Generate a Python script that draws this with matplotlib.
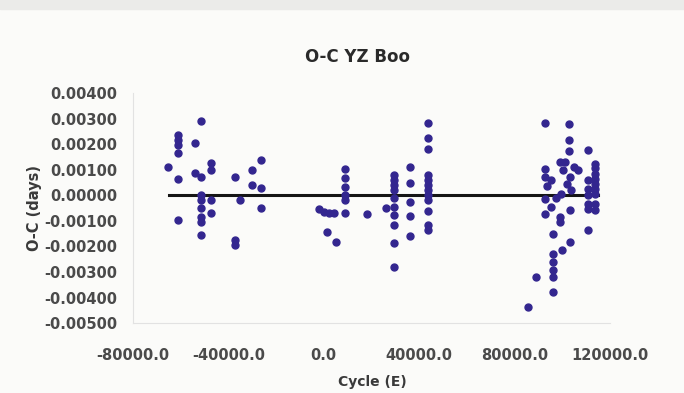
import matplotlib.pyplot as plt
from matplotlib.patches import Rectangle

# O-C residuals of YZ Boo
cycle_e = [
    -65250, -61050, -61050, -61050, -61050, -61050, -61050,
    -54000, -54000,
    -51360, -51360, -51360, -51360, -51360, -51360, -51360, -51360,
    -47150, -47150, -47150, -47150,
    -37050, -34940, -37050, -37050,
    -30300, -26500, -30300, -26500, -26500,
    -2100, 0, 2100, 4200, 1260, 5050,
    8840, 8840, 8840, 8840, 8840, 8840,
    18100, 26100,
    29470, 29470, 29470, 29470, 29470, 29470, 29470, 29470, 29470, 29470,
    36080, 36080, 36080, 36080, 36080,
    43800, 43800, 43800, 43800, 43800, 43800, 43800, 43800, 43800, 43800, 43800, 43800,
    92630, 102860, 102860, 102860, 110850, 98940, 101300,
    92630, 92630, 95440, 100200, 103100, 106640,
    113700, 113700, 113700, 113700, 113700, 113700, 113700,
    110850, 110850, 110850, 110850, 113700, 110850, 113700, 110850,
    92630, 95440, 92630, 98940, 98940, 103100,
    95900, 103100, 99650, 95900, 95900, 95900, 95900, 88830, 95900, 85590,
    101800, 103500, 99300, 104800, 97300, 93700,
]
oc_days = [
    0.00110, 0.00235, 0.00216, 0.00196, 0.00165, 0.00063, -0.00098,
    0.00205, 0.00088,
    0.00291, 0.00070, 0.00000, -0.00020, -0.00050, -0.00085, -0.00105, -0.00157,
    0.00125, 0.00098, -0.00020, -0.00070,
    0.00070, -0.00020, -0.00176, -0.00196,
    0.00098, 0.00140, 0.00040, 0.00027, -0.00050,
    -0.00055, -0.00066, -0.00070, -0.00070, -0.00145, -0.00184,
    0.00102, 0.00067, 0.00031, 0.00000, -0.00020, -0.00070,
    -0.00075, -0.00050,
    0.00078, 0.00059, 0.00040, 0.00020, -0.00012, -0.00047, -0.00078, -0.00118, -0.00188, -0.00282,
    0.00110, 0.00047, -0.00027, -0.00082, -0.00160,
    0.00282, 0.00223, 0.00180, 0.00078, 0.00059, 0.00040, 0.00020, 0.00000, -0.00020, -0.00060, -0.00118, -0.00137,
    0.00284, 0.00278, 0.00218, 0.00174, 0.00179, 0.00130, 0.00130,
    0.00102, 0.00072, 0.00059, 0.00098, 0.00072, 0.00098,
    0.00124, 0.00105, 0.00085, 0.00065, 0.00046, 0.00026, 0.00007,
    0.00059, 0.00026, 0.00000, -0.00033, -0.00033, -0.00052, -0.00059, -0.00137,
    -0.00013, -0.00046, -0.00072, -0.00085, -0.00105, -0.00059,
    -0.00153, -0.00183, -0.00216, -0.00231, -0.00261, -0.00294, -0.00320, -0.00318, -0.00379, -0.00438,
    0.00045, 0.00020, 0.00005, 0.00110, -0.00010, 0.00035,
]
zero_line_e = [-65000, 115000]
zero_line_oc = [0.0, 0.0]

x_ticks = [-80000, -40000, 0, 40000, 80000, 120000]
y_ticks = [0.004, 0.003, 0.002, 0.001, 0.0, -0.001, -0.002, -0.003, -0.004, -0.005]

plt.rcParams['font.family'] = ['DejaVu Sans']
fig = plt.figure(figsize=(6.84, 3.93), dpi=100, facecolor='#fbfbf9')
fig.patches.append(Rectangle((0, 0.978), 1, 0.022, transform=fig.transFigure,
                             color='#ebebe9', zorder=0))
ax = fig.add_axes([0.1944, 0.178, 0.6975, 0.585])
ax.set_facecolor('#fbfbf9')

ax.plot(zero_line_e, zero_line_oc, '-', color='#151515', lw=2.2, zorder=2)
ax.plot(cycle_e, oc_days, 'o', color='#33268f', ms=5, mec='#33268f', zorder=3)

ax.set_xlim(-80000, 120000)
ax.set_ylim(-0.005, 0.004)
ax.set_xticks(x_ticks)
ax.set_xticklabels(['%.1f' % v for v in x_ticks])
ax.set_yticks(y_ticks)
ax.set_yticklabels(['%.5f' % v for v in y_ticks])
ax.tick_params(length=0, labelsize=10.5, labelcolor='#4a4a4a')
ax.tick_params(axis='x', pad=18)
ax.tick_params(axis='y', pad=11)
for lab in ax.get_xticklabels() + ax.get_yticklabels():
    lab.set_fontweight('bold')

for s in ['top', 'right']:
    ax.spines[s].set_visible(False)
for s in ['left', 'bottom']:
    ax.spines[s].set_color('#e2e2e2')

fig.text(0.523, 0.855, 'O-C YZ Boo', ha='center', va='center',
         fontsize=12, fontweight='bold', color='#2a2a2a')
fig.text(0.544, 0.028, 'Cycle (E)', ha='center', va='center',
         fontsize=10, fontweight='bold', color='#3a3a3a')
fig.text(0.05, 0.47, 'O-C (days)', ha='center', va='center', rotation=90,
         fontsize=10.5, fontweight='bold', color='#3a3a3a')

plt.savefig('out.png', dpi=100, facecolor=fig.get_facecolor())
